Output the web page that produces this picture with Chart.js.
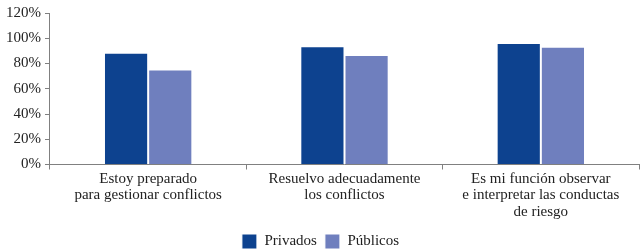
<!DOCTYPE html>
<html>
<head>
<meta charset="utf-8">
<script src="https://cdn.jsdelivr.net/npm/chart.js@4"></script>
<style>
  html, body { margin: 0; padding: 0; background: #ffffff; }
  #wrap { width: 642px; height: 252px; }
</style>
</head>
<body>
<div id="wrap"><canvas id="grafico" width="642" height="252"></canvas></div>
<script>
const categorias = [
    ["Estoy preparado", "para gestionar conflictos"],
    ["Resuelvo adecuadamente", "los conflictos"],
    ["Es mi función observar", "e interpretar las conductas", "de riesgo"],
];
const privados = [88.6, 93.6, 96.2];
const publicos = [75.3, 86.8, 93.3];

const fuente = { family: "'Liberation Serif', 'Times New Roman', serif", size: 15 };

const dataGrafico = {
    labels: categorias,
    datasets: [
        {
            label: "Privados",
            backgroundColor: "#0d428f",
            borderColor: "#ffffff",
            borderWidth: 1,
            data: privados,
        },
        {
            label: "Públicos",
            backgroundColor: "#6f7fbe",
            borderColor: "#ffffff",
            borderWidth: 1,
            data: publicos,
        },
    ],
};

const configGrafico = {
    type: "bar",
    data: dataGrafico,
    options: {
        responsive: false,
        animation: false,
        layout: { padding: { top: -1, right: 3, left: 2, bottom: -7 } },
        datasets: {
            bar: { categoryPercentage: 0.45, barPercentage: 1 },
        },
        plugins: {
            legend: {
                position: "bottom",
                labels: {
                    boxWidth: 15,
                    boxHeight: 15,
                    color: "#222222",
                    font: fuente,
                    padding: 8,
                },
            },
            tooltip: { enabled: false },
        },
        scales: {
            x: {
                afterFit: (escala) => { escala.height += 5; },
                grid: {
                    display: true,
                    drawOnChartArea: false,
                    drawTicks: true,
                    tickLength: 5,
                    color: "#808080",
                    offset: true,
                },
                border: { display: true, color: "#808080", width: 1 },
                ticks: {
                    color: "#222222",
                    font: { ...fuente, lineHeight: 1.1 },
                    maxRotation: 0,
                    padding: 1,
                },
            },
            y: {
                min: 0,
                max: 120,
                grid: {
                    display: true,
                    drawOnChartArea: false,
                    drawTicks: true,
                    tickLength: 5,
                    color: "#808080",
                },
                border: { display: true, color: "#808080", width: 1 },
                ticks: {
                    stepSize: 20,
                    color: "#222222",
                    font: fuente,
                    padding: 4,
                    callback: (valor) => valor + "%",
                },
            },
        },
    },
};

document.fonts.load("15px 'Liberation Serif'").finally(() => {
    new Chart(document.getElementById("grafico"), configGrafico);
});
</script>
</body>
</html>
